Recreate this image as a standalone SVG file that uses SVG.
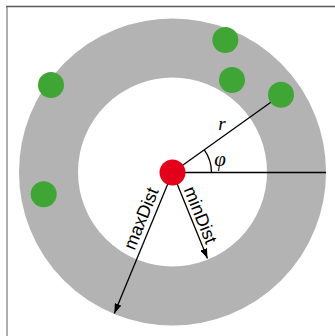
<svg xmlns="http://www.w3.org/2000/svg" width="335" height="336" viewBox="0 0 335 336">
<defs>
<style>
.ln{stroke:#000;stroke-width:1.3;fill:none}
.grn{fill:#3fa535}
.lbl{font-family:"Liberation Sans",Arial,sans-serif;font-size:18px;fill:#000}
.math{font-family:"Liberation Serif","Times New Roman",serif;font-style:italic;fill:#000}
</style>
<marker id="ah" markerWidth="10" markerHeight="7" refX="10" refY="3.5" orient="auto" markerUnits="userSpaceOnUse">
<path d="M0,0 L10,3.5 L0,7 Z" fill="#000"/>
</marker>
</defs>
<rect width="335" height="336" fill="#fff"/>
<line x1="7" y1="6" x2="7" y2="336" stroke="#b0b0b0" stroke-width="2"/>
<line x1="6" y1="6.5" x2="335" y2="6.5" stroke="#5a5a5a" stroke-width="1.3"/>
<g id="ring">
<circle cx="172.5" cy="172" r="124" fill="none" stroke="#b3b3b3" stroke-width="59"/>
</g>
<g id="connectors">
<line class="ln" x1="172.5" y1="172.5" x2="326" y2="172.5"/>
<line class="ln" x1="172.5" y1="172.5" x2="281" y2="95"/>
<path class="ln" d="M211.5,172.5 A39,39 0 0 0 204.3,149.9"/>
<line class="ln" x1="172.5" y1="172.5" x2="114.3" y2="313.5" marker-end="url(#ah)"/>
<line class="ln" x1="172.5" y1="172.5" x2="207.5" y2="258.5" marker-end="url(#ah)"/>
</g>
<g id="red">
<circle cx="172.5" cy="172.5" r="13" fill="#e2001a"/>
</g>
<g id="g1"><circle class="grn" cx="225.3" cy="40" r="13"/></g>
<g id="g2"><circle class="grn" cx="232" cy="80" r="13"/></g>
<g id="g3"><circle class="grn" cx="281" cy="94.7" r="13"/></g>
<g id="g4"><circle class="grn" cx="51" cy="85" r="13"/></g>
<g id="g5"><circle class="grn" cx="43.7" cy="194.3" r="13"/></g>
<g id="labels">
<text class="math" x="222" y="130" font-size="19" text-anchor="middle">r</text>
<text class="math" x="220" y="166" font-size="21" text-anchor="middle">φ</text>
<text class="lbl" transform="translate(151.3,222.7) rotate(-67.8)" x="0" y="-5" text-anchor="middle">maxDist</text>
<text class="lbl" transform="translate(191.2,218.9) rotate(67.8)" x="0" y="-4" text-anchor="middle">minDist</text>
</g>
</svg>
